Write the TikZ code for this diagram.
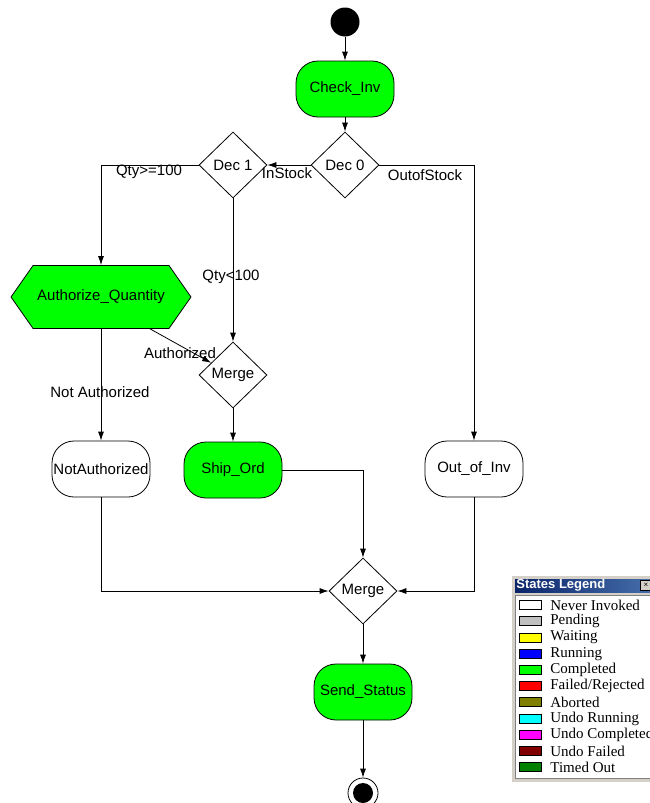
\documentclass[tikz,border=0pt]{standalone}
\usepackage{fontspec}
\setmainfont{Liberation Sans}
\newfontfamily\legendfont{Liberation Serif}
\usetikzlibrary{arrows.meta,shapes.geometric,shapes.symbols}
\definecolor{donegreen}{RGB}{0,255,0}
\definecolor{titleblue}{RGB}{10,36,106}
\definecolor{titlelight}{RGB}{70,110,170}
\definecolor{wingrey}{RGB}{212,208,200}
\definecolor{pendgrey}{RGB}{192,192,192}
\definecolor{waityellow}{RGB}{255,255,0}
\definecolor{runblue}{RGB}{0,0,255}
\definecolor{failred}{RGB}{255,0,0}
\definecolor{abortolive}{RGB}{128,128,0}
\definecolor{undocyan}{RGB}{0,255,255}
\definecolor{undomagenta}{RGB}{255,0,255}
\definecolor{undomaroon}{RGB}{128,0,0}
\definecolor{timedgreen}{RGB}{0,128,0}

\tikzset{
  activity/.style={draw, rounded corners=22pt, minimum width=98pt,
    minimum height=56pt, inner sep=0pt, font=\fontsize{15}{17}\selectfont},
  done/.style={activity, fill=donegreen},
  decision/.style={draw, diamond, minimum width=68pt, minimum height=66pt,
    inner sep=0pt, font=\fontsize{15}{17}\selectfont},
  flow/.style={-{Latex[length=9pt,width=6pt]}},
  guard/.style={inner sep=0pt, font=\fontsize{15}{17}\selectfont},
  swatch/.style={draw, line width=1pt, minimum width=22pt,
    minimum height=9pt, inner sep=0pt},
  legendtext/.style={anchor=west, inner sep=0pt,
    font=\legendfont\fontsize{15}{16}\selectfont}
}

\begin{document}
\begin{tikzpicture}[x=1pt, y=-1pt, line width=0.8pt]
  \useasboundingbox[fill=white] (0,0) rectangle (650,803);

  % States
  \node[circle, fill=black, minimum size=29pt, inner sep=0pt] (start) at (345,22) {};
  \node[done] (checkinv) at (345,89) {Check\_Inv};
  \node[decision] (dec0) at (345,165) {Dec 0};
  \node[decision] (dec1) at (233,165) {Dec 1};
  \node[signal, signal to=east and west, signal pointer angle=110, draw,
    fill=donegreen, minimum width=180pt, minimum height=63pt, inner sep=0pt,
    font=\fontsize{15}{17}\selectfont] (authq) at (101,297) {Authorize\_Quantity};
  \node[decision] (merge1) at (233,375) {Merge};
  \node[activity, fill=white] (notauth) at (101,469) {NotAuthorized};
  \node[done] (shipord) at (233,470) {Ship\_Ord};
  \node[activity, fill=white] (outinv) at (474,469) {Out\_of\_Inv};
  \node[decision] (merge2) at (363,591) {Merge};
  \node[done] (sendst) at (363,692) {Send\_Status};
  \node[circle, draw, minimum size=30pt, inner sep=0pt] (finish) at (363,793) {};
  \fill (finish.center) circle (10pt);

  % Transitions
  \draw[flow] (start) -- (checkinv);
  \draw[flow] (checkinv) -- (dec0);
  \draw[flow] (dec0.west) -- (dec1.east);
  \draw[flow] (dec0.east) -| (outinv.north);
  \draw[flow] (dec1.west) -| (authq.north);
  \draw[flow] (dec1.south) -- (merge1.north);
  \draw[flow] (authq.-33) -- (merge1);
  \draw[flow] (authq.south) -- (notauth.north);
  \draw[flow] (merge1.south) -- (shipord.north);
  \draw[flow] (shipord.east) -| (merge2.north);
  \draw[flow] (notauth.south) |- (merge2.west);
  \draw[flow] (outinv.south) |- (merge2.east);
  \draw[flow] (merge2.south) -- (sendst.north);
  \draw[flow] (sendst.south) -- (finish.north);

  % Guards
  \node[guard] (instock) at (287,173) {InStock};
  \node[guard] (outofstock) at (425,175) {OutofStock};
  \node[guard] (qtyhigh) at (149,172) {Qty>=100};
  \node[guard] (qtylow) at (231,277) {Qty<100};
  \node[guard] (authd) at (180,353) {Authorized};
  \node[guard] (notauthd) at (100,392) {Not Authorized};

  % Legend window
  \fill[wingrey] (512,576) rectangle (650,782);
  \shade[left color=titleblue, right color=titlelight] (515,579) rectangle (650,592);
  \node[anchor=west, inner sep=0pt, text=white,
    font=\bfseries\fontsize{13}{15}\selectfont] (legtitle) at (516,585.5) {States Legend};
  \node[draw, line width=0.5pt, fill=wingrey, minimum width=11pt, minimum height=10pt,
    inner sep=0pt, font=\fontsize{8}{8}\selectfont] (legclose) at (646,585) {×};
  \draw[line width=0.6pt, fill=white, draw=gray] (515,595) rectangle (651,778);
  \foreach \c/\t [count=\i] in {white/Never Invoked, pendgrey/Pending,
      waityellow/Waiting, runblue/Running, donegreen/Completed,
      failred/{Failed/Rejected}, abortolive/Aborted, undocyan/Undo Running,
      undomagenta/Undo Completed, undomaroon/Undo Failed, timedgreen/Timed Out} {
    \node[swatch, fill=\c] (sw\i) at (530,589+16.2*\i) {};
    \node[legendtext] (lt\i) at (550,589+16.2*\i) {\t};
  }
\end{tikzpicture}
\end{document}
